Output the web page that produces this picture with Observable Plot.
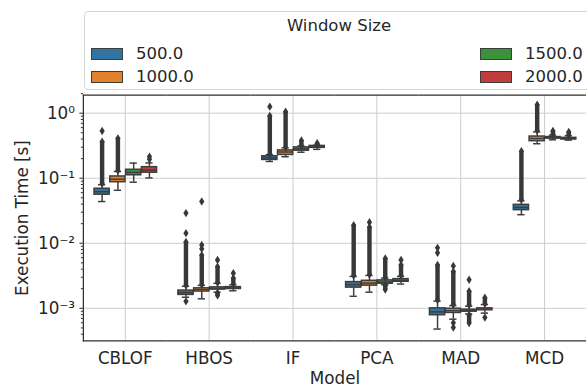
<!DOCTYPE html>
<html><head><meta charset="utf-8">
<script src="https://cdn.jsdelivr.net/npm/d3@7"></script>
<script src="https://cdn.jsdelivr.net/npm/@observablehq/plot@0.6"></script>
<style>
html,body{margin:0;padding:0;background:#fff;}
#wrap{position:relative;width:587px;height:388px;overflow:hidden;font-family:"DejaVu Sans",sans-serif;color:#262626;}
#chart{position:absolute;left:0;top:0;}
#legend{position:absolute;left:83.5px;top:10.5px;width:511px;height:79px;border:1px solid #d6d6d6;border-radius:4px;background:rgba(255,255,255,0.85);box-sizing:border-box;}
#legend .title{position:absolute;left:0;right:0;top:4px;text-align:center;font-size:16.5px;line-height:20px;}
#legend .item{position:absolute;display:flex;align-items:center;font-size:16.5px;line-height:20px;}
#legend .sw{width:32px;height:12px;box-sizing:border-box;border:1px solid #3d3d3d;margin-right:13px;}
</style></head><body>
<div id="wrap"><div id="chart"></div><div id="legend"></div></div>
<script>
const models = ["CBLOF", "HBOS", "IF", "PCA", "MAD", "MCD"];
const windows = ["500.0", "1000.0", "1500.0", "2000.0"];
const colors = ["#3274a1", "#e1812c", "#3a923a", "#c03d3e"];
const majorTicks = [1e-3, 1e-2, 1e-1, 1];
const minorTicks = [4e-4,5e-4,6e-4,7e-4,8e-4,9e-4,2e-3,3e-3,4e-3,5e-3,6e-3,7e-3,8e-3,9e-3,2e-2,3e-2,4e-2,5e-2,6e-2,7e-2,8e-2,9e-2,0.2,0.3,0.4,0.5,0.6,0.7,0.8,0.9,2];
const yDomain = [3.16e-4, 1.89];

// per model (rows) x window size (columns)
const whiskerLow = [
  [0.0438, 0.0653, 0.0869, 0.101],
  [0.00148, 0.0014, 0.00177, 0.00186],
  [0.181, 0.214, 0.251, 0.278],
  [0.00153, 0.00177, 0.00231, 0.00236],
  [0.00048, 0.00068, 0.00082, 0.000843],
  [0.0275, 0.339, 0.39, 0.385]
];
const q1 = [
  [0.0558, 0.0869, 0.111, 0.1216],
  [0.001607, 0.00181, 0.00194, 0.00198],
  [0.191, 0.228, 0.265, 0.293],
  [0.00208, 0.00223, 0.00239, 0.00256],
  [0.000783, 0.000849, 0.000888, 0.000933],
  [0.0323, 0.371, 0.408, 0.395]
];
const median = [
  [0.062, 0.0966, 0.123, 0.1336],
  [0.001746, 0.00194, 0.00202, 0.00205],
  [0.205, 0.253, 0.283, 0.303],
  [0.00231, 0.00244, 0.00253, 0.00268],
  [0.00088, 0.00092, 0.00092, 0.000966],
  [0.0355, 0.408, 0.418, 0.405]
];
const q3 = [
  [0.0689, 0.1065, 0.135, 0.148],
  [0.001875, 0.00203, 0.0021, 0.00212],
  [0.218, 0.268, 0.298, 0.314],
  [0.00253, 0.00265, 0.00269, 0.00281],
  [0.001, 0.000986, 0.000953, 0.001],
  [0.039, 0.4375, 0.43, 0.418]
];
const whiskerHigh = [
  [0.0794, 0.127, 0.171, 0.172],
  [0.00218, 0.00225, 0.00242, 0.0023],
  [0.2296, 0.293, 0.314, 0.322],
  [0.00309, 0.0032, 0.00291, 0.00309],
  [0.00129, 0.0011, 0.00108, 0.00114],
  [0.0449, 0.515, 0.46, 0.45]
];
// dense runs of outliers: [model, window, from, to]
const denseOutliers = [
  ["CBLOF", "500.0", 0.083, 0.364], ["CBLOF", "1000.0", 0.131, 0.41],
  ["HBOS", "500.0", 0.00225, 0.0105], ["HBOS", "1000.0", 0.00232, 0.00658],
  ["HBOS", "1500.0", 0.0025, 0.00437], ["HBOS", "1500.0", 0.00158, 0.00172],
  ["HBOS", "2000.0", 0.00237, 0.00291],
  ["IF", "500.0", 0.236, 0.91], ["IF", "1000.0", 0.30, 1.05],
  ["IF", "1500.0", 0.322, 0.38], ["IF", "2000.0", 0.33, 0.345],
  ["PCA", "500.0", 0.0032, 0.0189], ["PCA", "1000.0", 0.0033, 0.0177],
  ["PCA", "1500.0", 0.003, 0.00585], ["PCA", "1500.0", 0.00194, 0.00225],
  ["PCA", "2000.0", 0.0032, 0.00464],
  ["MAD", "500.0", 0.00134, 0.00464], ["MAD", "1000.0", 0.00114, 0.00367],
  ["MAD", "1500.0", 0.00112, 0.00183], ["MAD", "1500.0", 0.000593, 0.00079],
  ["MAD", "2000.0", 0.00118, 0.00145],
  ["MCD", "500.0", 0.047, 0.26], ["MCD", "1000.0", 0.54, 1.35],
  ["MCD", "1500.0", 0.47, 0.533], ["MCD", "2000.0", 0.46, 0.515]
];
// isolated outliers: [model, window, value]
const pointOutliers = [
  ["CBLOF", "500.0", 0.533], ["CBLOF", "2000.0", 0.196], ["CBLOF", "2000.0", 0.215],
  ["HBOS", "500.0", 0.0143], ["HBOS", "500.0", 0.0291], ["HBOS", "500.0", 0.00128],
  ["HBOS", "1000.0", 0.0082], ["HBOS", "1000.0", 0.0094], ["HBOS", "1000.0", 0.0438],
  ["HBOS", "1500.0", 0.00553], ["HBOS", "2000.0", 0.00347],
  ["IF", "500.0", 1.26],
  ["PCA", "1000.0", 0.021], ["PCA", "2000.0", 0.00553],
  ["MAD", "500.0", 0.00713], ["MAD", "500.0", 0.0085],
  ["MAD", "1000.0", 0.00449], ["MAD", "1000.0", 0.000598], ["MAD", "1000.0", 0.000508],
  ["MAD", "1500.0", 0.00275], ["MAD", "2000.0", 0.000721]
];

const boxes = [];
models.forEach((m, i) => windows.forEach((w, j) => boxes.push({
  model: m, win: w, lo: whiskerLow[i][j], q1: q1[i][j], med: median[i][j], q3: q3[i][j], hi: whiskerHigh[i][j]
})));
const dense = denseOutliers.map(([model, win, from, to]) => ({model, win, from, to}));
const points = pointOutliers.map(([model, win, v]) => ({model, win, v}));

const sup = {"-": "\u207b", "0": "\u2070", "1": "\u00b9", "2": "\u00b2", "3": "\u00b3"};
const fmt = v => "10" + String(Math.round(Math.log10(v))).split("").map(c => sup[c]).join("");

const thinDiamond = {draw(ctx, size) {
  const s = Math.sqrt(size), w = s * 0.25, h = s * 0.4;
  ctx.moveTo(0, -h); ctx.lineTo(w, 0); ctx.lineTo(0, h); ctx.lineTo(-w, 0); ctx.closePath();
}};

const spine = "#2e2e2e", edge = "#3d3d3d", flier = "#383838", grid = "#cbcbcb";

const chart = Plot.plot({
  width: 595, height: 388,
  marginLeft: 83, marginRight: 0, marginTop: 96, marginBottom: 43,
  style: {fontFamily: "DejaVu Sans", fontSize: "17px", color: "#262626", background: "transparent", overflow: "visible"},
  fx: {domain: models, padding: 0},
  x: {domain: windows, padding: 0.012, insetLeft: 8.53, insetRight: 8.53, axis: null},
  y: {type: "log", domain: yDomain, axis: null},
  color: {domain: windows, range: colors},
  marks: [
    Plot.gridY(majorTicks, {stroke: grid, strokeOpacity: 1, strokeWidth: 1}),
    Plot.gridFx({stroke: grid, strokeOpacity: 1, strokeWidth: 1}),
    Plot.ruleY([yDomain[1]], {stroke: spine, strokeWidth: 1.25}),
    Plot.ruleY([yDomain[0]], {stroke: spine, strokeWidth: 1.25}),
    Plot.frame({anchor: "left", facetAnchor: "left", stroke: spine, strokeWidth: 1.25}),
    Plot.axisY(majorTicks, {tickFormat: fmt, tickSize: 3.5, tickPadding: 5, fontSize: 17,
      label: "Execution Time [s]", labelAnchor: "center", labelOffset: 68, labelArrow: "none"}),
    Plot.axisY(minorTicks, {tickFormat: () => "", tickSize: 2, label: null}),
    Plot.axisFx({anchor: "bottom", tickSize: 0, tickPadding: 11, fontSize: 17, label: "Model", labelAnchor: "center", labelOffset: 44, labelArrow: "none"}),
    Plot.ruleX(boxes, {fx: "model", x: "win", y1: "lo", y2: "q1", stroke: edge, strokeWidth: 1.5}),
    Plot.ruleX(boxes, {fx: "model", x: "win", y1: "q3", y2: "hi", stroke: edge, strokeWidth: 1.5}),
    Plot.tickY(boxes, {fx: "model", x: "win", y: "lo", insetLeft: 4.3, insetRight: 4.3, stroke: edge, strokeWidth: 1.5}),
    Plot.tickY(boxes, {fx: "model", x: "win", y: "hi", insetLeft: 4.3, insetRight: 4.3, stroke: edge, strokeWidth: 1.5}),
    Plot.barY(boxes, {fx: "model", x: "win", y1: "q1", y2: "q3", fill: "win", stroke: edge, strokeWidth: 1.5, insetLeft: 0.3, insetRight: 0.3}),
    Plot.tickY(boxes, {fx: "model", x: "win", y: "med", stroke: edge, strokeWidth: 1.5, insetLeft: 0.3, insetRight: 0.3}),
    Plot.ruleX(dense, {fx: "model", x: "win", y1: "from", y2: "to", stroke: flier, strokeWidth: 4.5}),
    Plot.dot(dense, {fx: "model", x: "win", y: "from", symbol: thinDiamond, r: 6, fill: flier, stroke: "none"}),
    Plot.dot(dense, {fx: "model", x: "win", y: "to", symbol: thinDiamond, r: 6, fill: flier, stroke: "none"}),
    Plot.dot(points, {fx: "model", x: "win", y: "v", symbol: thinDiamond, r: 6, fill: flier, stroke: "none"})
  ]
});
document.getElementById("chart").appendChild(chart);

// legend (matplotlib style, two columns, column-major)
const legend = d3.select("#legend");
legend.append("div").attr("class", "title").text("Window Size");
const colX = [6.5, 395.5], rowY = [32, 55];
windows.forEach((w, i) => {
  const item = legend.append("div").attr("class", "item")
    .style("left", colX[Math.floor(i / 2)] + "px").style("top", rowY[i % 2] + "px");
  item.append("div").attr("class", "sw").style("background", colors[i]);
  item.append("span").text(w);
});
</script>
</body></html>
